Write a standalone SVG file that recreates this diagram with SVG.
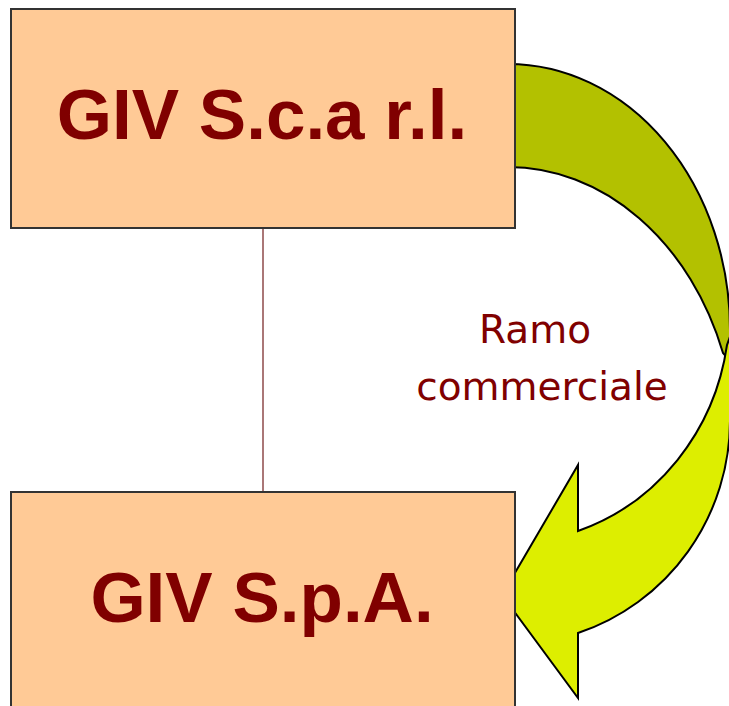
<svg xmlns="http://www.w3.org/2000/svg" width="729" height="706" viewBox="0 0 729 706">
<style>
.box{fill:#FFCA96;stroke:#333333;stroke-width:2}
.title{font-family:"Liberation Sans",Arial,sans-serif;font-weight:bold;font-size:71px;fill:#800000;text-anchor:middle}
.lbl{font-family:"DejaVu Sans",Verdana,sans-serif;font-size:39px;fill:#800000}
.arrow{stroke:#000;stroke-width:2;stroke-linejoin:miter}
</style>
<rect width="729" height="706" fill="#ffffff"/>
<g id="connectors">
<line x1="263" y1="228" x2="263" y2="492" stroke="#8E4A4A" stroke-width="1.5"/>
<path id="arrow-back" class="arrow" fill="#B3C100" d="M508,64 A222,266 0 0 1 730,330 L731,362 L723,353 A229,283 0 0 0 508,167 Z"/>
<path id="arrow-front" class="arrow" fill="#DDEE00" d="M731,334 L730,420 A222,224 0 0 1 578,633 L578,698 L502,595 L578,465 L578,531 A222,233 0 0 0 727,345 Z"/>
</g>
<g id="node-scarl">
<rect class="box" x="11" y="9" width="504" height="219"/>
<text class="title" x="262" y="139">GIV S.c.a r.l.</text>
</g>
<g id="node-spa">
<rect class="box" x="11" y="492" width="504" height="230"/>
<text class="title" x="262" y="622">GIV S.p.A.</text>
</g>
<g id="label">
<text class="lbl" x="535" y="343" text-anchor="middle">Ramo</text>
<text class="lbl" x="542" y="400" text-anchor="middle">commerciale</text>
</g>
</svg>
